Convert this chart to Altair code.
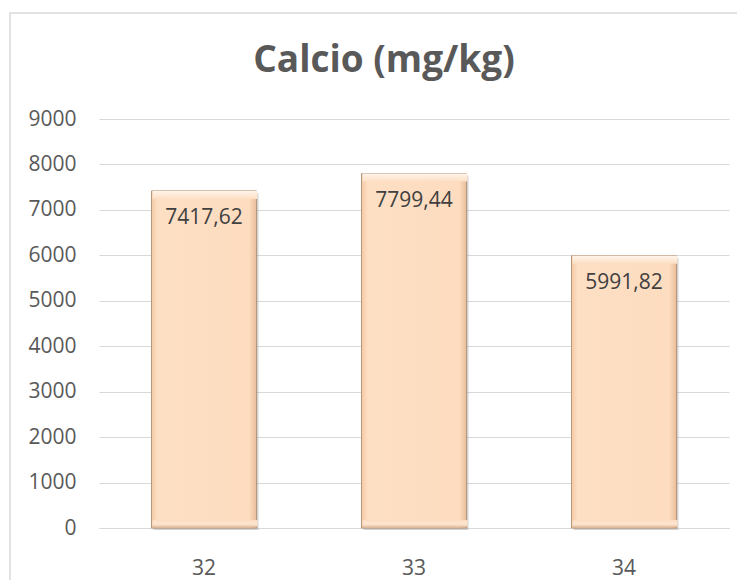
import altair as alt
import pandas as pd

categories = ["32", "33", "34"]
values = [7417.62, 7799.44, 5991.82]
labels = ["7417,62", "7799,44", "5991,82"]
y_ticks = [0, 1000, 2000, 3000, 4000, 5000, 6000, 7000, 8000, 9000]

df = pd.DataFrame({"cat": categories, "val": values, "lab": labels})

W, H = 630, 409
FONT = "Open Sans"

x_enc = alt.X("cat:N", sort=categories,
              scale=alt.Scale(paddingInner=0.5, paddingOuter=0.25),
              axis=alt.Axis(title=None, labelAngle=0, ticks=False, domain=True,
                            domainColor="#D9D9D9", domainWidth=1,
                            labelFont=FONT, labelFontSize=21, labelColor="#595959",
                            labelPadding=46, labelBaseline="alphabetic", grid=False))
y_scale = alt.Scale(domain=[0, 9000], nice=False)
y_enc = alt.Y("val:Q", scale=y_scale,
              axis=alt.Axis(title=None, values=y_ticks, format="d", ticks=False,
                            domain=False, grid=True, gridColor="#D9D9D9", gridWidth=1,
                            labelFont=FONT, labelFontSize=21, labelColor="#595959",
                            labelPadding=23, labelBaseline="middle"))

base = alt.Chart(df)

shadow = base.mark_bar(color="#9E9E9E", opacity=0.45, xOffset=2, x2Offset=2,
                       yOffset=2, y2Offset=3).encode(x=x_enc, y=y_enc)

main = base.mark_bar(
    stroke="#B8967A", strokeWidth=1,
    color=alt.Gradient(gradient="linear", x1=0, x2=1, y1=0, y2=0, stops=[
        alt.GradientStop(color="#F3C9A5", offset=0),
        alt.GradientStop(color="#FDDFC4", offset=0.06),
        alt.GradientStop(color="#FDDCBF", offset=0.93),
        alt.GradientStop(color="#E9BE9B", offset=1),
    ])
).encode(x=x_enc, y=y_enc)

top_band = base.mark_bar(
    y2Offset=8, xOffset=1, x2Offset=-1,
    color=alt.Gradient(gradient="linear", x1=0, x2=0, y1=0, y2=1, stops=[
        alt.GradientStop(color="#FFF4EA", offset=0),
        alt.GradientStop(color="#FDDFC4", offset=1),
    ])
).encode(x=x_enc, y=alt.Y("val:Q", scale=y_scale), y2="val:Q")

bottom_band = base.transform_calculate(zero="0").mark_bar(
    yOffset=-8, y2Offset=-1, xOffset=1, x2Offset=-1,
    color=alt.Gradient(gradient="linear", x1=0, x2=0, y1=0, y2=1, stops=[
        alt.GradientStop(color="#FDDCBF", offset=0),
        alt.GradientStop(color="#FCE6D2", offset=0.6),
        alt.GradientStop(color="#E8BE9C", offset=1),
    ])
).encode(x=x_enc, y=alt.Y("zero:Q", scale=y_scale), y2="zero:Q")

text = base.mark_text(font=FONT, fontSize=21, color="#404040", baseline="middle",
                      dy=27).encode(x=x_enc, y=alt.Y("val:Q", scale=y_scale),
                                    text="lab:N")

frame = alt.Chart(alt.Data(values=[{}])).mark_rect(
    fill=None, stroke="#D9D9D9", strokeWidth=1.5
).encode(x=alt.value(-89), x2=alt.value(720), y=alt.value(-106), y2=alt.value(480))

chart = alt.layer(frame, shadow, main, top_band, bottom_band, text).properties(
    width=W, height=H,
    title=alt.TitleParams("Calcio (mg/kg)", font=FONT, fontSize=37, fontWeight="bold",
                          color="#595959", frame="group", anchor="middle",
                          baseline="alphabetic", offset=-97, dx=-30),
    autosize=alt.AutoSizeParams(type="none"),
    padding={"left": 91, "top": 111, "right": 8, "bottom": 52},
    background="white",
).configure_view(stroke=None)

chart.save("out.html", embed_options={"renderer": "svg", "actions": False})
